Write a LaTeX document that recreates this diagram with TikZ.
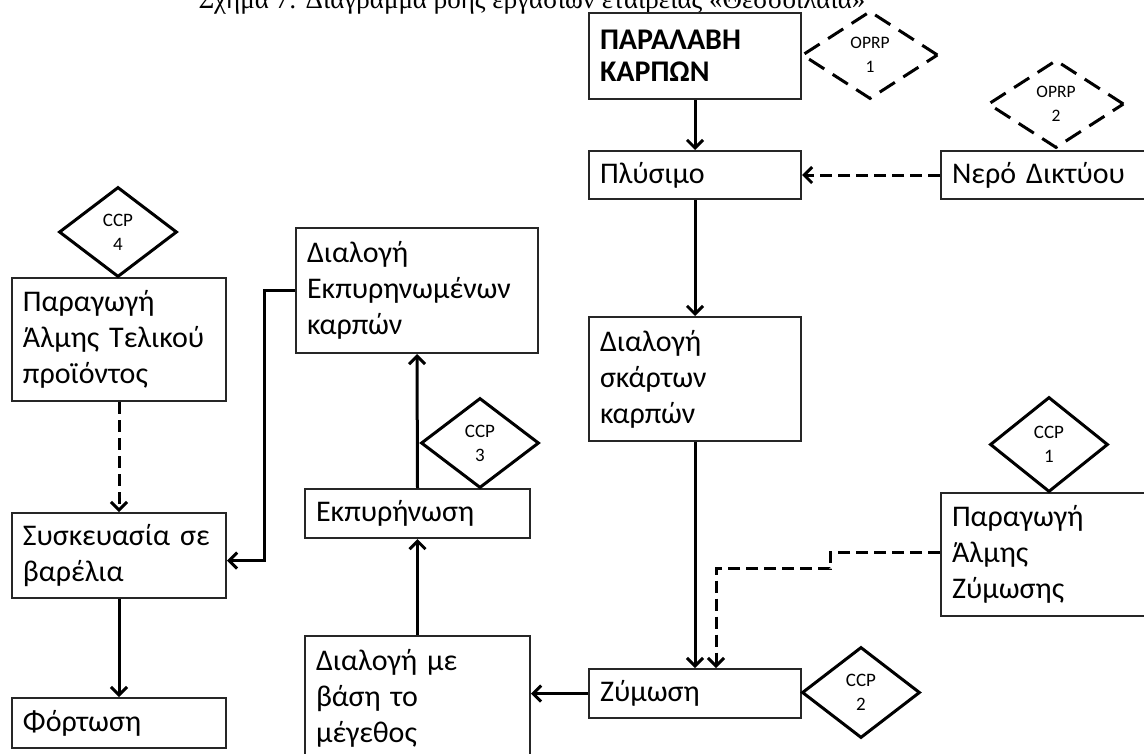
\documentclass[tikz,border=0pt]{standalone}
\usepackage{fontspec}
\setmainfont{Carlito}
\newfontfamily\titlefont{Liberation Serif}
\usetikzlibrary{arrows.meta,shapes.geometric}
\begin{document}
\begin{tikzpicture}[x=1pt,y=-1pt,
  box/.style={draw=black!85, line width=2pt, anchor=north west, align=left,
    inner xsep=11pt, inner ysep=0pt, font=\fontsize{30}{36}\selectfont},
  dia/.style={draw=black, line width=3pt, diamond, inner sep=0pt, align=center,
    font=\fontsize{19}{24}\selectfont},
  odia/.style={dia, dash pattern=on 18pt off 10pt, font=\fontsize{17.5}{24}\selectfont},
  arr/.style={draw=black, line width=3pt, -{Straight Barb[length=8pt,width=16pt]}},
  dline/.style={dash pattern=on 12pt off 6pt}
]
\clip (0,0) rectangle (1144,753);
\fill[white] (0,0) rectangle (1144,753);

% title (cut at the top)
\node[font=\titlefont\fontsize{27}{30}\selectfont, anchor=base, inner sep=0pt] (title) at (532,8)
  {Σχήμα 7: Διάγραμμα ροής εργασιών εταιρείας «Θεσσοϊλαία»};

% boxes
\node[box, text width=190pt, minimum height=86pt, font=\bfseries\fontsize{30}{32}\selectfont] (paralavi) at (588,12) {ΠΑΡΑΛΑΒΗ\\ΚΑΡΠΩΝ};
\node[box, text width=190pt, minimum height=48pt] (plysimo) at (588,150) {Πλύσιμο};
\node[box, text width=200pt, minimum height=48pt] (nero) at (940,150) {Νερό~Δικτύου};
\node[box, text width=190pt, minimum height=124pt] (skartwn) at (588,316) {Διαλογή\\σκάρτων\\καρπών};
\node[box, text width=190pt, minimum height=49pt] (zymosi) at (588,668) {Ζύμωση};
\node[box, text width=200pt, minimum height=123pt] (almiZ) at (940,492) {Παραγωγή\\Άλμης\\Ζύμωσης};
\node[box, text width=220pt, minimum height=125pt] (ekpyrDial) at (295,227) {Διαλογή\\Εκπυρηνωμένων\\καρπών};
\node[box, text width=203pt, minimum height=49pt] (ekpyr) at (304,488) {Εκπυρήνωση};
\node[box, text width=203pt, minimum height=125pt] (megethos) at (304,635) {Διαλογή~με\\βάση~το\\μέγεθος};
\node[box, text width=192pt, minimum height=123pt] (almiT) at (11,277) {Παραγωγή\\Άλμης~Τελικού\\προϊόντος};
\node[box, text width=192pt, minimum height=85pt] (syskev) at (11,512) {Συσκευασία~σε\\βαρέλια};
\node[box, text width=192pt, minimum height=50pt] (fortosi) at (11,697) {Φόρτωση};

% diamonds
\node[odia, minimum width=136pt, minimum height=88pt] (oprp1) at (870,55) {OPRP\\1};
\node[odia, minimum width=136pt, minimum height=88pt] (oprp2) at (1056,104) {OPRP\\2};
\node[dia, minimum width=118pt, minimum height=95pt] (ccp1) at (1049,444.5) {CCP\\1};
\node[dia, minimum width=118pt, minimum height=91pt] (ccp2) at (861,692.5) {CCP\\2};
\node[dia, minimum width=118pt, minimum height=90pt] (ccp3) at (480,443) {CCP\\3};
\node[dia, minimum width=118pt, minimum height=90pt] (ccp4) at (118,232) {CCP\\4};

% connectors
\draw[arr] (paralavi.south) -- (plysimo.north);
\draw[arr, dline] (nero.west) -- (plysimo.east);
\draw[arr] (plysimo.south) -- (skartwn.north);
\draw[arr] (skartwn.south) -- (zymosi.north);
\coordinate (zin) at ([xshift=21pt]zymosi.north);
\draw[arr, dline] ([yshift=2pt]almiZ.west) -- ++(-110,0) -- ++(0,16) -| (zin);
\draw[arr] (zymosi.west) -- (zymosi.west -| megethos.east);
\draw[arr] (megethos.north) -- (ekpyr.south);
\draw[arr] (ekpyr.north) -- (ekpyrDial.south);
\coordinate (sin) at ([yshift=-5pt]syskev.east);
\draw[arr] (ekpyrDial.west) -- ++(-31,0) |- (sin);
\draw[arr, dline] (almiT.south) -- (syskev.north);
\draw[arr] (syskev.south) -- (fortosi.north);
\end{tikzpicture}
\end{document}
